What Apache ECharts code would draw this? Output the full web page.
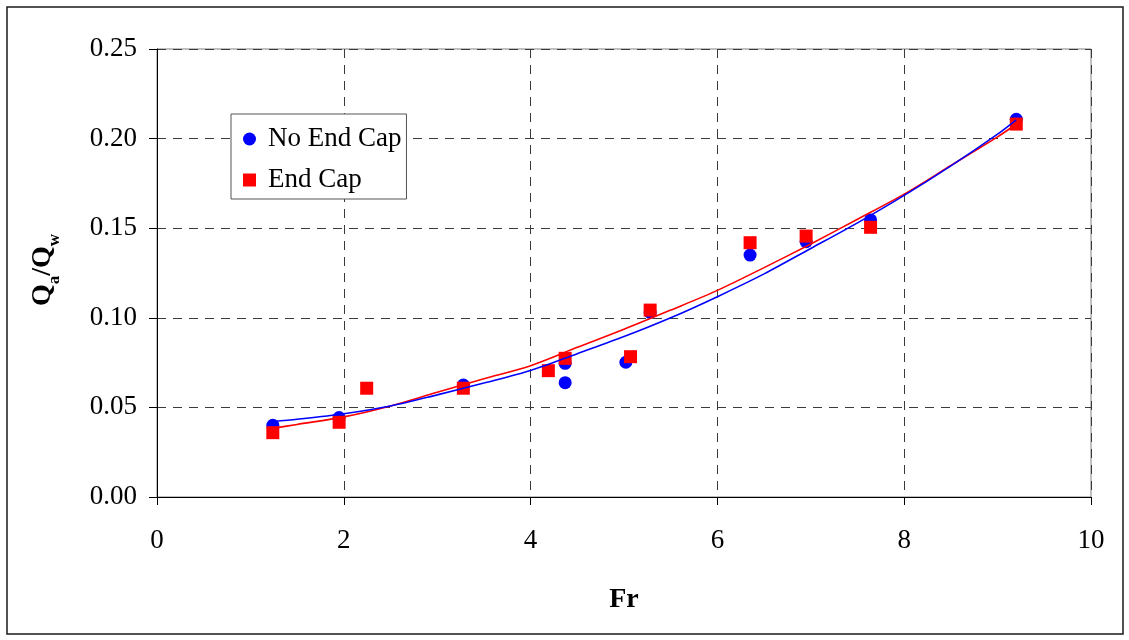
<!DOCTYPE html>
<html>
<head>
<meta charset="utf-8">
<title>Qa/Qw vs Fr</title>
<script src="https://cdn.jsdelivr.net/npm/echarts@6/dist/echarts.min.js"></script>
<style>
  html, body { margin: 0; padding: 0; background: #ffffff; }
  #chart { width: 1129px; height: 640px; }
</style>
</head>
<body>
<div id="chart"></div>
<script>
// Measured air-demand ratio Qa/Qw against Froude number Fr
const frNoCap = [1.24, 1.95, 3.28, 4.37, 4.37, 5.02, 5.28, 6.35, 6.95, 7.64, 9.2];
const qNoCap  = [0.0400, 0.0443, 0.0625, 0.0746, 0.0638, 0.0752, 0.1030, 0.1350, 0.1425, 0.1546, 0.2108];

const frCap = [1.24, 1.95, 2.245, 3.28, 4.19, 4.37, 5.07, 5.28, 6.35, 6.95, 7.64, 9.2];
const qCap  = [0.0359, 0.0417, 0.0607, 0.0607, 0.0705, 0.0774, 0.0783, 0.1043, 0.1419, 0.1456, 0.1505, 0.2081];

// Trend curves through each data set
const trendFr      = [1.24, 1.5, 2, 2.5, 3, 3.5, 4, 4.5, 5, 5.5, 6, 6.5, 7, 7.5, 8, 8.5, 9, 9.2];
const trendNoCap   = [0.0421, 0.0434, 0.0465, 0.0508, 0.0570, 0.0636, 0.0706, 0.0800, 0.0895, 0.1000, 0.1118, 0.1245, 0.1387, 0.1530, 0.1683, 0.1848, 0.2025, 0.2105];
const trendCap     = [0.0383, 0.0405, 0.0447, 0.0508, 0.0585, 0.0660, 0.0733, 0.0835, 0.0936, 0.1043, 0.1153, 0.1280, 0.1412, 0.1550, 0.1690, 0.1850, 0.2010, 0.2080];

const seriesNames = ['No End Cap', 'End Cap'];

const pairs = (xs, ys) => xs.map((x, i) => [x, ys[i]]);
const SERIF = "'Liberation Serif', 'Times New Roman', serif";

const chart = echarts.init(document.getElementById('chart'), null, { renderer: 'canvas' });

const gridLine = { show: true, lineStyle: { color: '#3a3a3a', width: 1, type: [9, 7] } };

chart.setOption({
  backgroundColor: '#ffffff',
  animation: false,
  graphic: [
    {
      type: 'rect',
      shape: { x: 7, y: 7, width: 1116, height: 627 },
      style: { fill: 'none', stroke: '#1a1a1a', lineWidth: 1.5 },
      z: 0
    }
  ],
  grid: {
    left: 157, right: 38, top: 49, bottom: 143,
    show: true, borderColor: '#808080', borderWidth: 1, backgroundColor: 'transparent'
  },
  legend: {
    data: seriesNames,
    orient: 'vertical',
    left: 231, top: 114,
    backgroundColor: '#ffffff',
    borderColor: '#555555', borderWidth: 1,
    padding: [11, 5, 5, 12],
    itemGap: 13,
    itemWidth: 13, itemHeight: 13,
    textStyle: { fontFamily: SERIF, fontSize: 27, color: '#000', lineHeight: 28, padding: [0, 0, 0, 7] }
  },
  xAxis: {
    type: 'value', min: 0, max: 10, interval: 2,
    name: 'Fr', nameLocation: 'middle', nameGap: 89,
    nameTextStyle: { fontFamily: SERIF, fontSize: 28, fontWeight: 'bold', color: '#000' },
    axisLine: { show: true, onZero: false, lineStyle: { color: '#000', width: 1 } },
    axisTick: { show: true, inside: false, length: 8, lineStyle: { color: '#000' } },
    axisLabel: { fontFamily: SERIF, fontSize: 27, color: '#000', margin: 30 },
    splitLine: gridLine
  },
  yAxis: {
    type: 'value', min: 0, max: 0.25, interval: 0.05,
    name: '{q|Q}{s|a}{q|/Q}{s|w}', nameLocation: 'middle', nameGap: 100, nameRotate: 90,
    nameTextStyle: {
      color: '#000',
      padding: [0, 0, 0, 6],
      rich: {
        q: { fontFamily: SERIF, fontSize: 28, fontWeight: 'bold', color: '#000', lineHeight: 32, verticalAlign: 'bottom' },
        s: { fontFamily: SERIF, fontSize: 17, fontWeight: 'bold', color: '#000', lineHeight: 32, verticalAlign: 'bottom', padding: [0, 0, -6, 0] }
      }
    },
    axisLine: { show: true, onZero: false, lineStyle: { color: '#000', width: 1 } },
    axisTick: { show: true, inside: false, length: 8, lineStyle: { color: '#000' } },
    axisLabel: { fontFamily: SERIF, fontSize: 27, color: '#000', margin: 20, formatter: v => v.toFixed(2) },
    splitLine: gridLine
  },
  series: [
    {
      name: seriesNames[0], type: 'scatter', symbol: 'circle', symbolSize: 13,
      itemStyle: { color: '#0000ff', opacity: 1 },
      data: pairs(frNoCap, qNoCap), z: 3
    },
    {
      name: seriesNames[1], type: 'scatter', symbol: 'rect', symbolSize: 13,
      itemStyle: { color: '#ff0000', opacity: 1 },
      data: pairs(frCap, qCap), z: 4
    },
    {
      name: 'End Cap trend', type: 'line', smooth: 0.3, showSymbol: false, symbol: 'none',
      lineStyle: { color: '#ff0000', width: 1.6 },
      data: pairs(trendFr, trendCap), z: 5
    },
    {
      name: 'No End Cap trend', type: 'line', smooth: 0.3, showSymbol: false, symbol: 'none',
      lineStyle: { color: '#0000ff', width: 1.6 },
      data: pairs(trendFr, trendNoCap), z: 6
    }
  ]
});
</script>
</body>
</html>
